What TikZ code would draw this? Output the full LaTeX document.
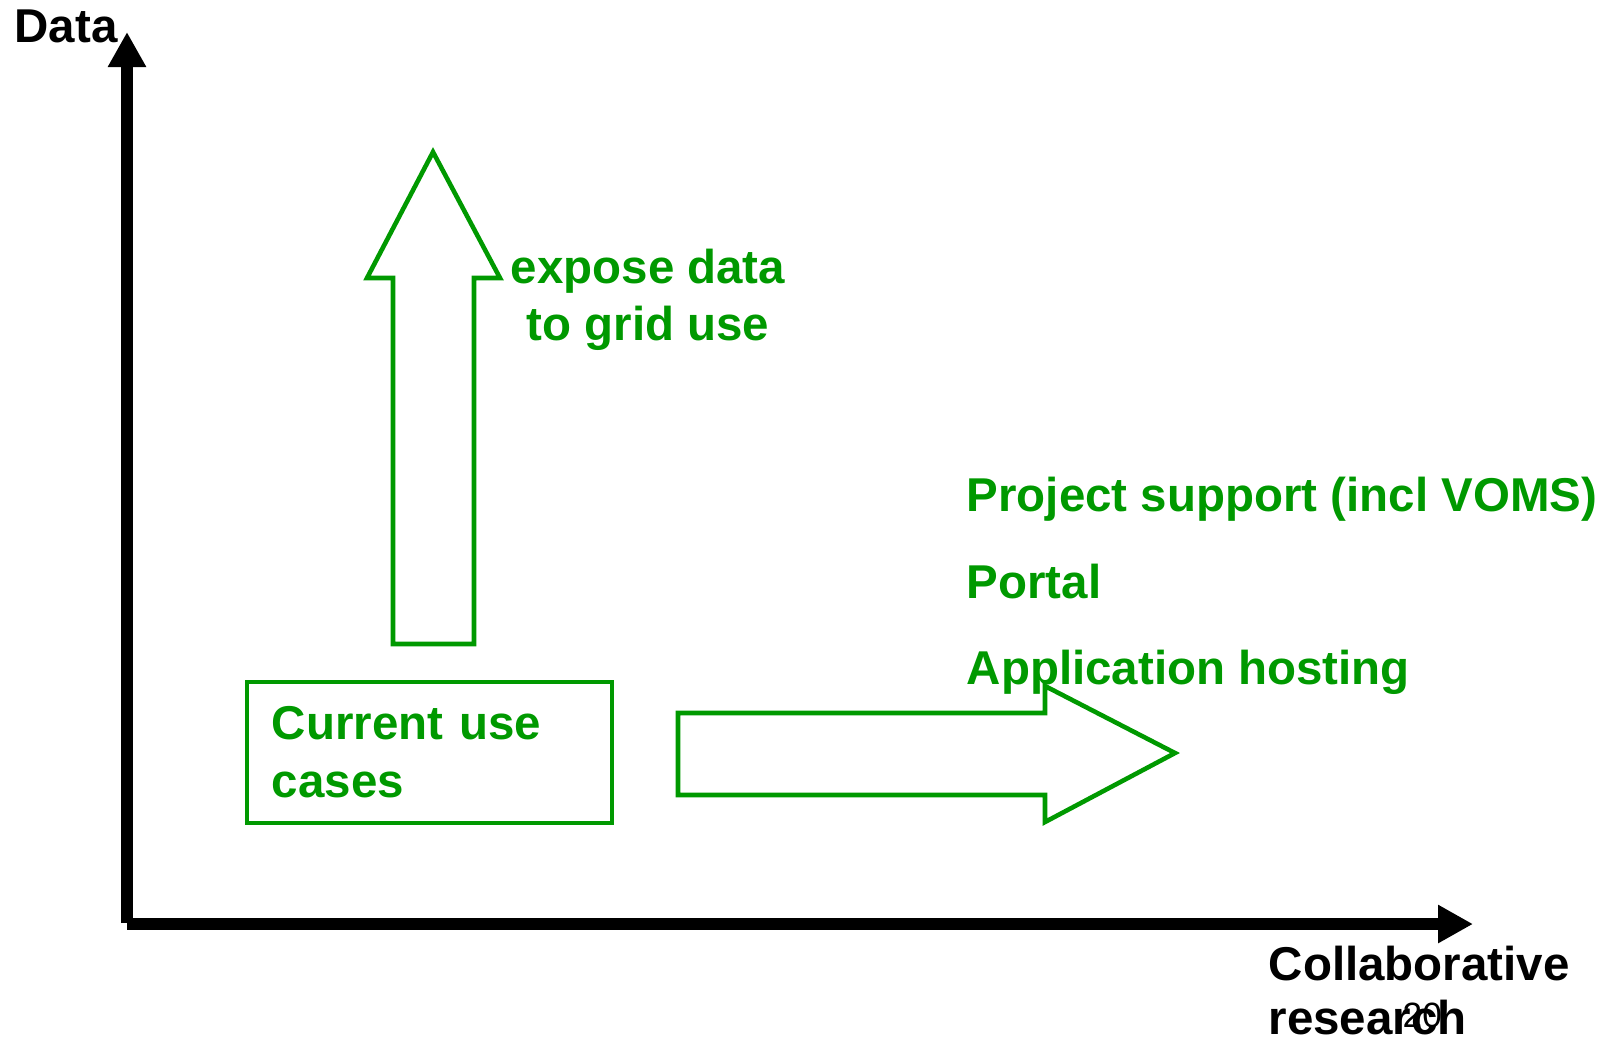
\documentclass[tikz,border=0pt]{standalone}
\usepackage{fontspec}
\setmainfont{Liberation Sans}
\usetikzlibrary{arrows.meta}
\definecolor{grn}{RGB}{0,153,0}
\tikzset{
  axis/.style={line width=3.4pt, -{Triangle[length=0.35cm,width=0.36cm]}},
  outline/.style={draw=grn, line width=1.3pt, line join=miter},
  gtext/.style={text=grn, inner sep=0pt, align=left},
  btext/.style={inner sep=0pt, align=left},
}

\begin{document}
\begin{tikzpicture}[x=0.01cm,y=-0.01cm]
        \useasboundingbox (0,0) rectangle (1610,1041);
        \coordinate (vfoot) at (127,923);
        \coordinate (hfoot) at (127,924);
        \coordinate (ytip) at (127,32);
        \coordinate (xtip) at (1473,924);
        \draw[axis] (vfoot) -- (ytip);
        \draw[axis] (hfoot) -- (xtip);
        \node (ylab) [btext, anchor=base west, font=\fontsize{13.5}{16}\selectfont\bfseries] at (14,42) {Data};
        \node (xlab) [btext, anchor=west, font=\fontsize{13.5}{15.4}\selectfont\bfseries] at (1268,990.5) {Collaborative\\research};
        \node (pagenum) [btext, anchor=base west, font=\fontsize{10}{12}\selectfont] at (1402,1027) {20};
        \draw[outline] (393,644) -- (393,278) -- (367,278) -- (433,152) -- (500,278) -- (474,278) -- (474,644) -- cycle;
        \draw[outline] (678,713) -- (1045,713) -- (1045,686) -- (1175,753) -- (1045,822) -- (1045,795) -- (678,795) -- cycle;
        \node (expose) [gtext, align=center, font=\fontsize{13.5}{16.2}\selectfont\bfseries] at (648,300) {expose data\\to grid use};
        \node (cur) [outline, gtext, text width=3.15cm, inner xsep=0.25cm, minimum height=1.41cm, font=\fontsize{13.5}{16.5}\selectfont\bfseries] at (429.5,752.5) {Current use\\cases};
        \node (services) [gtext, anchor=west, font=\fontsize{13.5}{24.6}\selectfont\bfseries] at (966,586) {Project support (incl VOMS)\\Portal\\Application hosting};
\end{tikzpicture}
\end{document}
